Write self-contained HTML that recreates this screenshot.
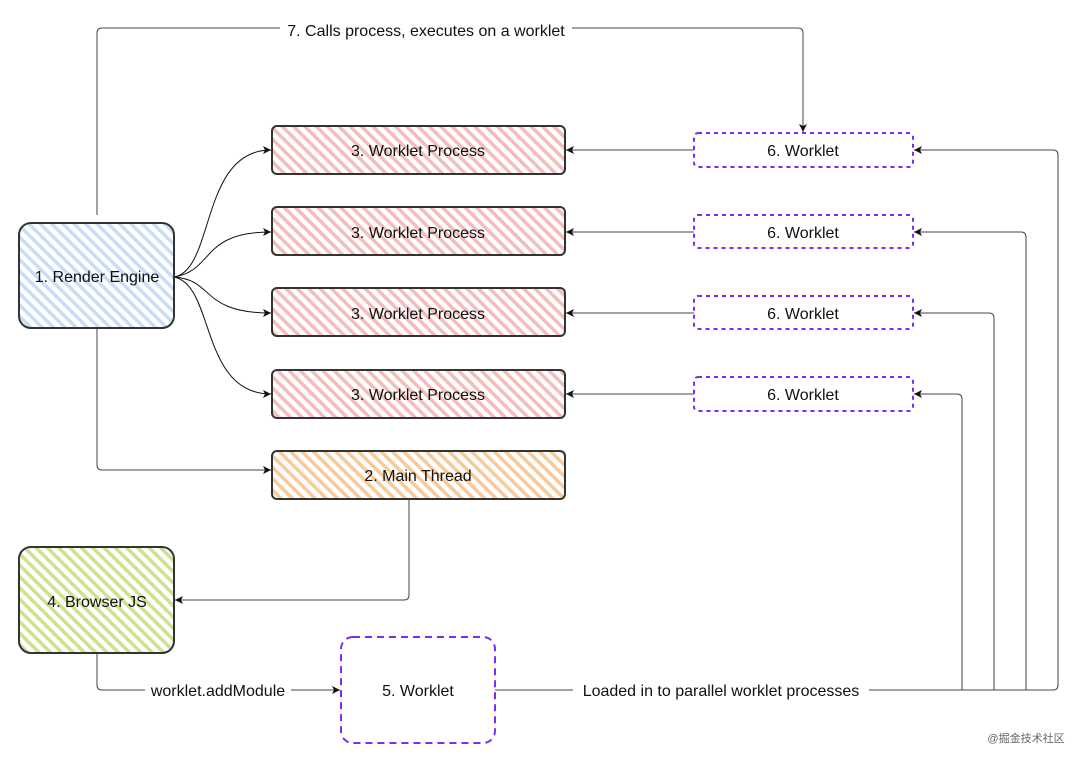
<!DOCTYPE html>
<html><head><meta charset="utf-8"><style>
html,body{margin:0;padding:0;background:#fff;}
svg{display:block;}
text{font-family:"Liberation Sans","Noto Sans CJK SC",sans-serif;font-size:16px;fill:#111;}
</style></head><body>
<svg width="1080" height="758" viewBox="0 0 1080 758" xmlns="http://www.w3.org/2000/svg">
<defs>
<pattern id="hb" width="8" height="8" patternUnits="userSpaceOnUse" patternTransform="rotate(45)"><rect width="8" height="8" fill="#fff"/><rect x="0" y="0" width="8" height="3.5" fill="#c9ddf8"/></pattern>
<pattern id="hr" width="8" height="8" patternUnits="userSpaceOnUse" patternTransform="rotate(45)"><rect width="8" height="8" fill="#fff"/><rect x="0" y="0" width="8" height="3.5" fill="#f5bcbc"/></pattern>
<pattern id="ho" width="8" height="8" patternUnits="userSpaceOnUse" patternTransform="rotate(45)"><rect width="8" height="8" fill="#fff"/><rect x="0" y="0" width="8" height="3.5" fill="#f8c99a"/></pattern>
<pattern id="hg" width="8" height="8" patternUnits="userSpaceOnUse" patternTransform="rotate(45)"><rect width="8" height="8" fill="#fff"/><rect x="0" y="0" width="8" height="3.5" fill="#cbe28f"/></pattern>
<marker id="a" markerWidth="10" markerHeight="10" refX="8" refY="5" orient="auto" markerUnits="userSpaceOnUse"><path d="M0,1 L8,5 L0,9 L2,5 Z" fill="#111"/></marker>
</defs>
<g fill="none" stroke="#444" stroke-width="1">
<path d="M97,215 V33 Q97,28 102,28 H798 Q803,28 803,33 V132" marker-end="url(#a)"/>
<path d="M97,328 V465 Q97,470 102,470 H271" marker-end="url(#a)"/>
<path d="M409,499 V595 Q409,600 404,600 H175" marker-end="url(#a)"/>
<path d="M97,653 V685 Q97,690 102,690 H340" marker-end="url(#a)"/>
<path d="M495,690 H1053 Q1058,690 1058,685 V155 Q1058,150 1053,150 H914" marker-end="url(#a)"/>
<path d="M1026,690 V237 Q1026,232 1021,232 H914" marker-end="url(#a)"/>
<path d="M994,690 V318 Q994,313 989,313 H914" marker-end="url(#a)"/>
<path d="M962,690 V399 Q962,394 957,394 H914" marker-end="url(#a)"/>
<path d="M694,150 H566" marker-end="url(#a)"/>
<path d="M694,232 H566" marker-end="url(#a)"/>
<path d="M694,313 H566" marker-end="url(#a)"/>
<path d="M694,394 H566" marker-end="url(#a)"/>
</g>
<g fill="none" stroke="#111" stroke-width="1">
<path d="M174,277 C215,270 200,150 271,150" marker-end="url(#a)"/>
<path d="M174,277 C215,270 200,232 271,232" marker-end="url(#a)"/>
<path d="M174,277 C215,280 200,313 271,313" marker-end="url(#a)"/>
<path d="M174,277 C215,285 200,394 271,394" marker-end="url(#a)"/>
</g>
<rect x="280" y="20" width="292" height="20" fill="#fff"/>
<text x="426" y="36" text-anchor="middle">7. Calls process, executes on a worklet</text>
<rect x="145" y="681" width="146" height="18" fill="#fff"/>
<text x="218" y="696" text-anchor="middle" fill="#222">worklet.addModule</text>
<rect x="573" y="681" width="296" height="18" fill="#fff"/>
<text x="721" y="696" text-anchor="middle">Loaded in to parallel worklet processes</text>

<g stroke="#333" stroke-width="2">
<rect x="19" y="223" width="155" height="105" rx="12" fill="url(#hb)"/>
<rect x="272" y="126" width="293" height="48" rx="5" fill="url(#hr)"/>
<rect x="272" y="207" width="293" height="48" rx="5" fill="url(#hr)"/>
<rect x="272" y="288" width="293" height="48" rx="5" fill="url(#hr)"/>
<rect x="272" y="370" width="293" height="48" rx="5" fill="url(#hr)"/>
<rect x="272" y="451" width="293" height="48" rx="5" fill="url(#ho)"/>
<rect x="19" y="547" width="155" height="106" rx="12" fill="url(#hg)"/>
</g>
<g stroke="#7b2cf5" stroke-width="2" stroke-dasharray="4 4" fill="#fff">
<rect x="341" y="637" width="154" height="106" rx="12" stroke-dasharray="7 5"/>
<rect x="694" y="133" width="219" height="34" rx="4"/>
<rect x="694" y="215" width="219" height="33" rx="4"/>
<rect x="694" y="296" width="219" height="33" rx="4"/>
<rect x="694" y="377" width="219" height="34" rx="4"/>
</g>
<g text-anchor="middle">
<text x="97" y="282">1. Render Engine</text>
<text x="418" y="156">3. Worklet Process</text>
<text x="418" y="238">3. Worklet Process</text>
<text x="418" y="319">3. Worklet Process</text>
<text x="418" y="400">3. Worklet Process</text>
<text x="418" y="481">2. Main Thread</text>
<text x="97" y="607">4. Browser JS</text>
<text x="418" y="696">5. Worklet</text>
<text x="803" y="156">6. Worklet</text>
<text x="803" y="238">6. Worklet</text>
<text x="803" y="319">6. Worklet</text>
<text x="803" y="400">6. Worklet</text>
</g>
<text x="1026" y="742" text-anchor="middle" style="font-size:11px;fill:#666">@掘金技术社区</text>
</svg>
</body></html>
